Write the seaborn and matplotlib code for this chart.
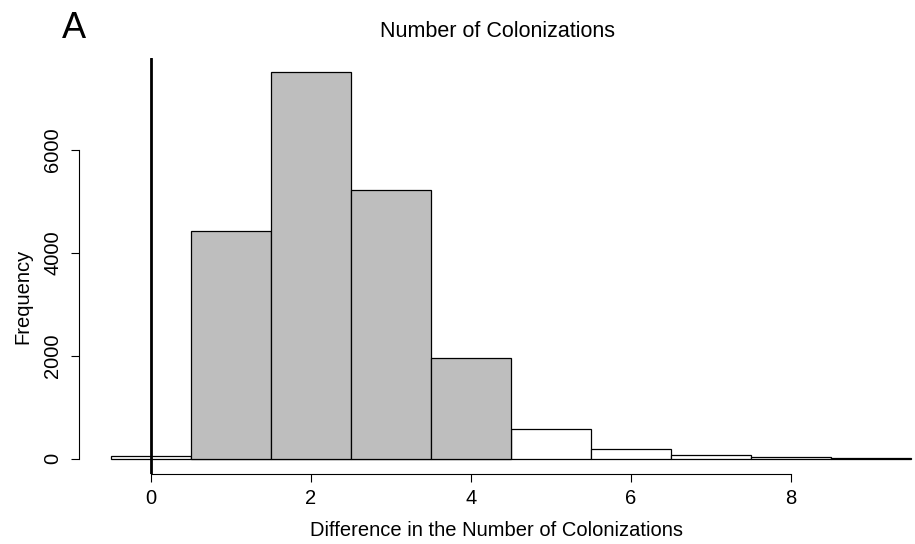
import numpy as np
import pandas as pd
import seaborn as sns
import matplotlib
matplotlib.use('Agg')
import matplotlib.pyplot as plt

# Data
diff_values = [0, 1, 2, 3, 4, 5, 6, 7, 8, 9]
frequency = [45, 4420, 7500, 5220, 1955, 580, 180, 70, 22, 8]
shaded = [1 <= v <= 4 for v in diff_values]
x_ticks = [0, 2, 4, 6, 8]
y_ticks = [0, 2000, 4000, 6000]

df = pd.DataFrame({'diff': diff_values, 'freq': frequency, 'shaded': shaded})

sns.set_style('ticks')
plt.rcParams['font.family'] = ['Liberation Sans', 'DejaVu Sans']
plt.rcParams['text.color'] = 'black'
plt.rcParams['axes.labelcolor'] = 'black'
plt.rcParams['axes.edgecolor'] = 'black'
plt.rcParams['xtick.color'] = 'black'
plt.rcParams['ytick.color'] = 'black'

W, H = 915, 544
fig = plt.figure(figsize=(W / 100, H / 100), dpi=100)
# plot region (pixels): left 79, right 915, top 57.5, bottom 474
ax = fig.add_axes([79 / W, (H - 474) / H, (W - 79) / W, (474 - 57.5) / H])

# grey bars for 1-4, white bars elsewhere
for flag, fill in [(False, 'white'), (True, '#BEBEBE')]:
    sub = df[df['shaded'] == flag]
    sns.histplot(data=sub, x='diff', weights='freq', discrete=True,
                 color=fill, alpha=1, edgecolor='black', linewidth=0.9, ax=ax)

ax.axvline(0, color='black', lw=2.0)

ax.set_xlim(-0.9, 9.55)
ax.set_ylim(-300, 7790)
ax.set_xticks(x_ticks)
ax.set_yticks(y_ticks)
ax.spines['top'].set_visible(False)
ax.spines['right'].set_visible(False)
ax.spines['left'].set_bounds(0, 6000)
ax.spines['bottom'].set_bounds(0, 8)
ax.spines['left'].set_linewidth(0.8)
ax.spines['bottom'].set_linewidth(0.8)
ax.tick_params(axis='both', length=6, width=0.8, labelsize=14.5, color='black',
               labelcolor='black')
ax.tick_params(axis='x', pad=5)
ax.tick_params(axis='y', pad=6, labelrotation=90)
for lab in ax.get_yticklabels():
    lab.set_va('center')

ax.set_xlabel('Difference in the Number of Colonizations', fontsize=14.5, va='center')
ax.set_ylabel('Frequency', fontsize=14.5, va='center')
ax.xaxis.set_label_coords(0.5, (474 - 530) / (474 - 57.5))
ax.yaxis.set_label_coords((23 - 79) / (W - 79), (474 - 296) / (474 - 57.5))

fig.text(497 / W, 1 - 37 / H, 'Number of Colonizations', fontsize=15.5,
         ha='center', va='baseline')
fig.text(74 / W, 1 - 38 / H, 'A', fontsize=26, ha='center', va='baseline')

fig.savefig('out.png', dpi=100)
